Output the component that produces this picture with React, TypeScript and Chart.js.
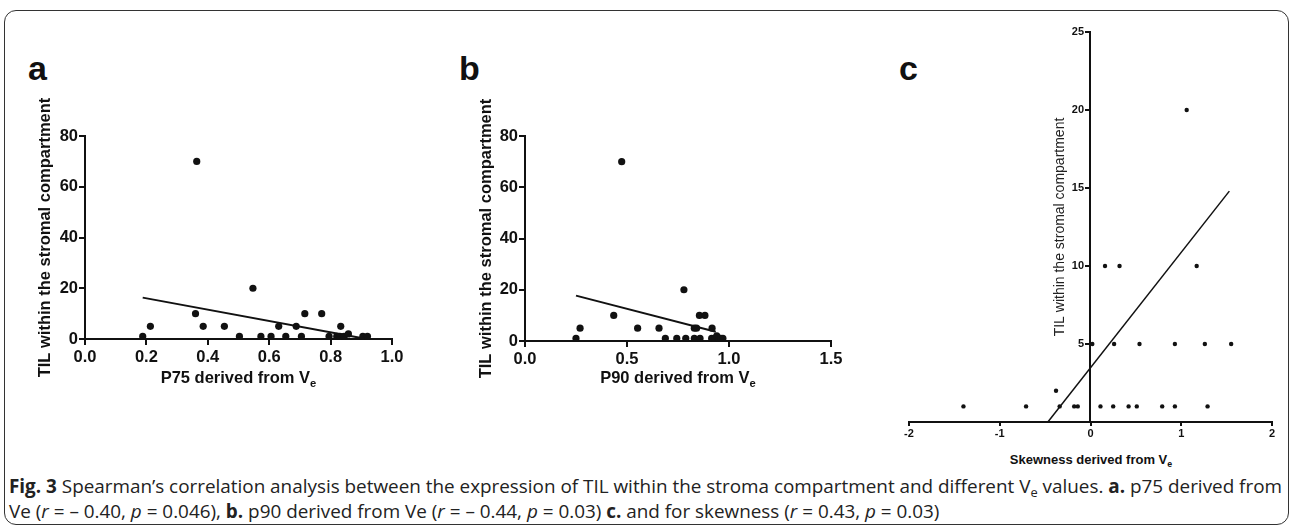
import React, { useEffect, useLayoutEffect, useRef } from "react";
import { Chart, registerables } from "chart.js";

Chart.register(...registerables);

// ---------- data ----------
// Panel a: P75 derived from Ve vs TIL
const aX = [0.188, 0.213, 0.36, 0.364, 0.385, 0.454, 0.503, 0.547, 0.573, 0.606, 0.631, 0.654, 0.688, 0.705, 0.716, 0.771, 0.795, 0.82, 0.83, 0.833, 0.844, 0.858, 0.905, 0.92];
const aY = [1, 5, 10, 70, 5, 5, 1, 20, 1, 1, 5, 1, 5, 1, 10, 10, 1, 1, 1, 5, 1, 2, 1, 1];
const fitAX = [0.188, 0.9];
const fitAY = [16.3, 0.4];

// Panel b: P90 derived from Ve vs TIL
const bX = [0.25, 0.27, 0.435, 0.474, 0.552, 0.657, 0.688, 0.744, 0.779, 0.788, 0.83, 0.83, 0.841, 0.855, 0.882, 0.858, 0.917, 0.915, 0.93, 0.94, 0.95, 0.96, 0.97];
const bY = [1, 5, 10, 70, 5, 5, 1, 1, 20, 1, 1, 5, 5, 10, 10, 1, 5, 1, 1, 2, 1, 1, 1];
const fitBX = [0.25, 0.935];
const fitBY = [17.7, 3.6];

// Panel c: Skewness derived from Ve vs TIL
const cX = [-1.4, -0.71, -0.38, -0.34, -0.18, -0.14, 0.11, 0.25, 0.42, 0.51, 0.79, 0.93, 1.29, 0.02, 0.26, 0.54, 0.93, 1.26, 1.55, 0.16, 0.32, 1.17, 1.06];
const cY = [1, 1, 2, 1, 1, 1, 1, 1, 1, 1, 1, 1, 1, 5, 5, 5, 5, 5, 5, 10, 10, 10, 20];
const fitCX = [-0.47, 1.53];
const fitCY = [0, 14.8];

const yTitle = "TIL within the stromal compartment";

// ---------- styling ----------
const SANS = "'Liberation Sans', Arial, Helvetica, sans-serif";
const INK = "#111111";

const pts = (xs: number[], ys: number[]) => xs.map((x, i) => ({ x, y: ys[i] }));

type Box = { left: number; top: number; width: number; height: number };

function ChartCanvas({ box, build }: { box: Box; build: () => any }) {
  const ref = useRef<HTMLCanvasElement>(null);
  useEffect(() => {
    const chart = new Chart(ref.current as HTMLCanvasElement, build());
    return () => chart.destroy();
  }, []);
  return (
    <canvas
      ref={ref}
      width={box.width}
      height={box.height}
      style={{ position: "absolute", left: box.left, top: box.top, width: box.width, height: box.height }}
    />
  );
}

function axisStyle(fontSize: number, tickLength: number, pad: number, lw: number) {
  return {
    ticks: { font: { family: SANS, size: fontSize, weight: "bold" }, color: INK, padding: pad, autoSkip: false, maxRotation: 0 },
    grid: { display: true, drawOnChartArea: false, drawTicks: true, tickLength, tickWidth: lw, tickColor: INK, lineWidth: lw, color: INK },
    border: { display: true, width: lw, color: INK },
  };
}

function scatterSets(xs: number[], ys: number[], fx: number[], fy: number[], r: number, lw: number) {
  return [
    { data: pts(xs, ys), pointRadius: r, pointHoverRadius: r, pointBackgroundColor: INK, pointBorderWidth: 0, backgroundColor: INK, borderColor: INK, showLine: false, clip: false },
    { data: pts(fx, fy), pointRadius: 0, borderColor: INK, borderWidth: lw, showLine: true, fill: false, clip: false },
  ];
}

const basePlugins = { legend: { display: false }, tooltip: { enabled: false }, title: { display: false } };

function buildPanelAB(xs: number[], ys: number[], fx: number[], fy: number[], xMax: number, xStep: number, yAxisW: number, titlePad: number, padRight: number, xAxisH: number) {
  return () => {
    const xs0 = axisStyle(16.5, 6, 3, 2);
    const ys0 = axisStyle(16.5, 6, 1, 2);
    return {
      type: "scatter",
      data: { datasets: scatterSets(xs, ys, fx, fy, 3.6, 2) },
      options: {
        responsive: false,
        animation: false,
        devicePixelRatio: 1,
        layout: { padding: { left: 0, top: 56, right: padRight, bottom: 0 } },
        plugins: basePlugins,
        scales: {
          x: {
            type: "linear",
            min: 0,
            max: xMax,
            afterFit: (s: any) => { s.height = xAxisH; },
            ...xs0,
            ticks: { ...xs0.ticks, stepSize: xStep, callback: (v: any) => Number(v).toFixed(1) },
          },
          y: {
            type: "linear",
            min: 0,
            max: 80,
            afterFit: (s: any) => { s.width = yAxisW; },
            ...ys0,
            ticks: { ...ys0.ticks, stepSize: 20, callback: (v: any) => String(Math.round(Number(v))) },
            title: { display: true, text: yTitle, color: INK, font: { family: SANS, size: 16.5, weight: "bold", lineHeight: 1.2 }, padding: { top: titlePad, bottom: 0 } },
          },
        },
      },
    };
  };
}

const buildA = buildPanelAB(aX, aY, fitAX, fitAY, 1, 0.2, 65, 15.6, 18, 51);
const buildB = buildPanelAB(bX, bY, fitBX, fitBY, 1.5, 0.5, 75, 26.1, 19, 49);

const buildC = () => {
  const xs0 = axisStyle(11, 4, 1, 2);
  return {
    type: "scatter",
    data: { datasets: scatterSets(cX, cY, fitCX, fitCY, 2.2, 1.5) },
    options: {
      responsive: false,
      animation: false,
      devicePixelRatio: 1,
      layout: { padding: { left: 19, top: 12, right: 18, bottom: 0 } },
      plugins: basePlugins,
      scales: {
        x: {
          type: "linear",
          min: -2,
          max: 2,
          afterFit: (s: any) => { s.height = 28; },
          ...xs0,
          ticks: { ...xs0.ticks, stepSize: 1, callback: (v: any) => String(Math.round(Number(v))) },
        },
        y: { type: "linear", min: 0, max: 25, display: false },
      },
    },
  };
};

// y axis of panel c, which crosses the x axis at x = 0
const buildCAxis = () => {
  const ys0 = axisStyle(11, 5, 1, 2);
  return {
    type: "scatter",
    data: { datasets: [] },
    options: {
      responsive: false,
      animation: false,
      devicePixelRatio: 1,
      layout: { padding: { left: 0, top: 12, right: 0, bottom: 8 } },
      plugins: basePlugins,
      scales: {
        x: { type: "linear", min: 0, max: 2, display: false },
        y: {
          type: "linear",
          min: 0,
          max: 25,
          afterFit: (s: any) => { s.width = 50; },
          afterBuildTicks: (s: any) => { s.ticks = s.ticks.filter((t: any) => t.value !== 0); },
          ...ys0,
          ticks: { ...ys0.ticks, stepSize: 5, callback: (v: any) => String(Math.round(Number(v))) },
          title: { display: true, text: yTitle, color: "#222", font: { family: SANS, size: 14, weight: "normal", lineHeight: 1.2 }, padding: { top: 11.6, bottom: 0 } },
        },
      },
    },
  };
};

function Sub({ children }: { children: React.ReactNode }) {
  return <span style={{ fontSize: "0.68em", position: "relative", top: "0.32em" }}>{children}</span>;
}

function XTitle({ cx, top, size, children }: { cx: number; top: number; size: number; children: React.ReactNode }) {
  return (
    <div style={{ position: "absolute", left: cx - 200, top, width: 400, textAlign: "center", fontFamily: SANS, fontWeight: "bold", fontSize: size, lineHeight: "20px", color: INK, whiteSpace: "nowrap" }}>
      {children}
    </div>
  );
}

function PanelLabel({ x, text }: { x: number; text: string }) {
  return (
    <div style={{ position: "absolute", left: x, top: 51, fontFamily: SANS, fontWeight: "bold", fontSize: 34, lineHeight: "34px", color: INK }}>{text}</div>
  );
}

function Caption() {
  const box = useRef<HTMLDivElement>(null);
  const line1 = useRef<HTMLSpanElement>(null);
  useLayoutEffect(() => {
    if (!box.current || !line1.current) return;
    const w = line1.current.getBoundingClientRect().width;
    if (w > 0) box.current.style.fontSize = (15 * 1274) / w + "px";
  }, []);
  return (
    <div ref={box} style={{ position: "absolute", left: 9, top: 475, fontFamily: "'Open Sans', 'Noto Sans', sans-serif", fontSize: 15, lineHeight: "23.3px", color: "#222", whiteSpace: "nowrap" }}>
      <span ref={line1}>
        <b>Fig. 3</b> Spearman’s correlation analysis between the expression of TIL within the stroma compartment and different V<Sub>e</Sub> values. <b>a.</b> p75 derived from
      </span>
      <br />
      <span>
        Ve (<i>r</i> = – 0.40, <i>p</i> = 0.046), <b>b.</b> p90 derived from Ve (<i>r</i> = – 0.44, <i>p</i> = 0.03) <b>c.</b> and for skewness (<i>r</i> = 0.43, <i>p</i> = 0.03)
      </span>
    </div>
  );
}

export default function App() {
  return (
    <div style={{ position: "absolute", left: 0, top: 0, width: 1293, height: 528, overflow: "hidden", background: "#fff" }}>
      <div style={{ position: "absolute", left: 4, top: 10, width: 1283, height: 513, border: "1.5px solid #333", borderRadius: 12 }} />

      <PanelLabel x={28} text="a" />
      <PanelLabel x={459} text="b" />
      <PanelLabel x={899} text="c" />

      <ChartCanvas box={{ left: 20, top: 80, width: 390, height: 310 }} build={buildA} />
      <ChartCanvas box={{ left: 450, top: 80, width: 400, height: 310 }} build={buildB} />
      <ChartCanvas box={{ left: 890, top: 20, width: 400, height: 430 }} build={buildC} />
      <ChartCanvas box={{ left: 1040, top: 20, width: 100, height: 410 }} build={buildCAxis} />

      <XTitle cx={238.5} top={367} size={16.5}>P75 derived from V<Sub>e</Sub></XTitle>
      <XTitle cx={678} top={367} size={16.5}>P90 derived from V<Sub>e</Sub></XTitle>
      <XTitle cx={1091} top={450} size={13}>Skewness derived from V<Sub>e</Sub></XTitle>

      <Caption />
    </div>
  );
}
